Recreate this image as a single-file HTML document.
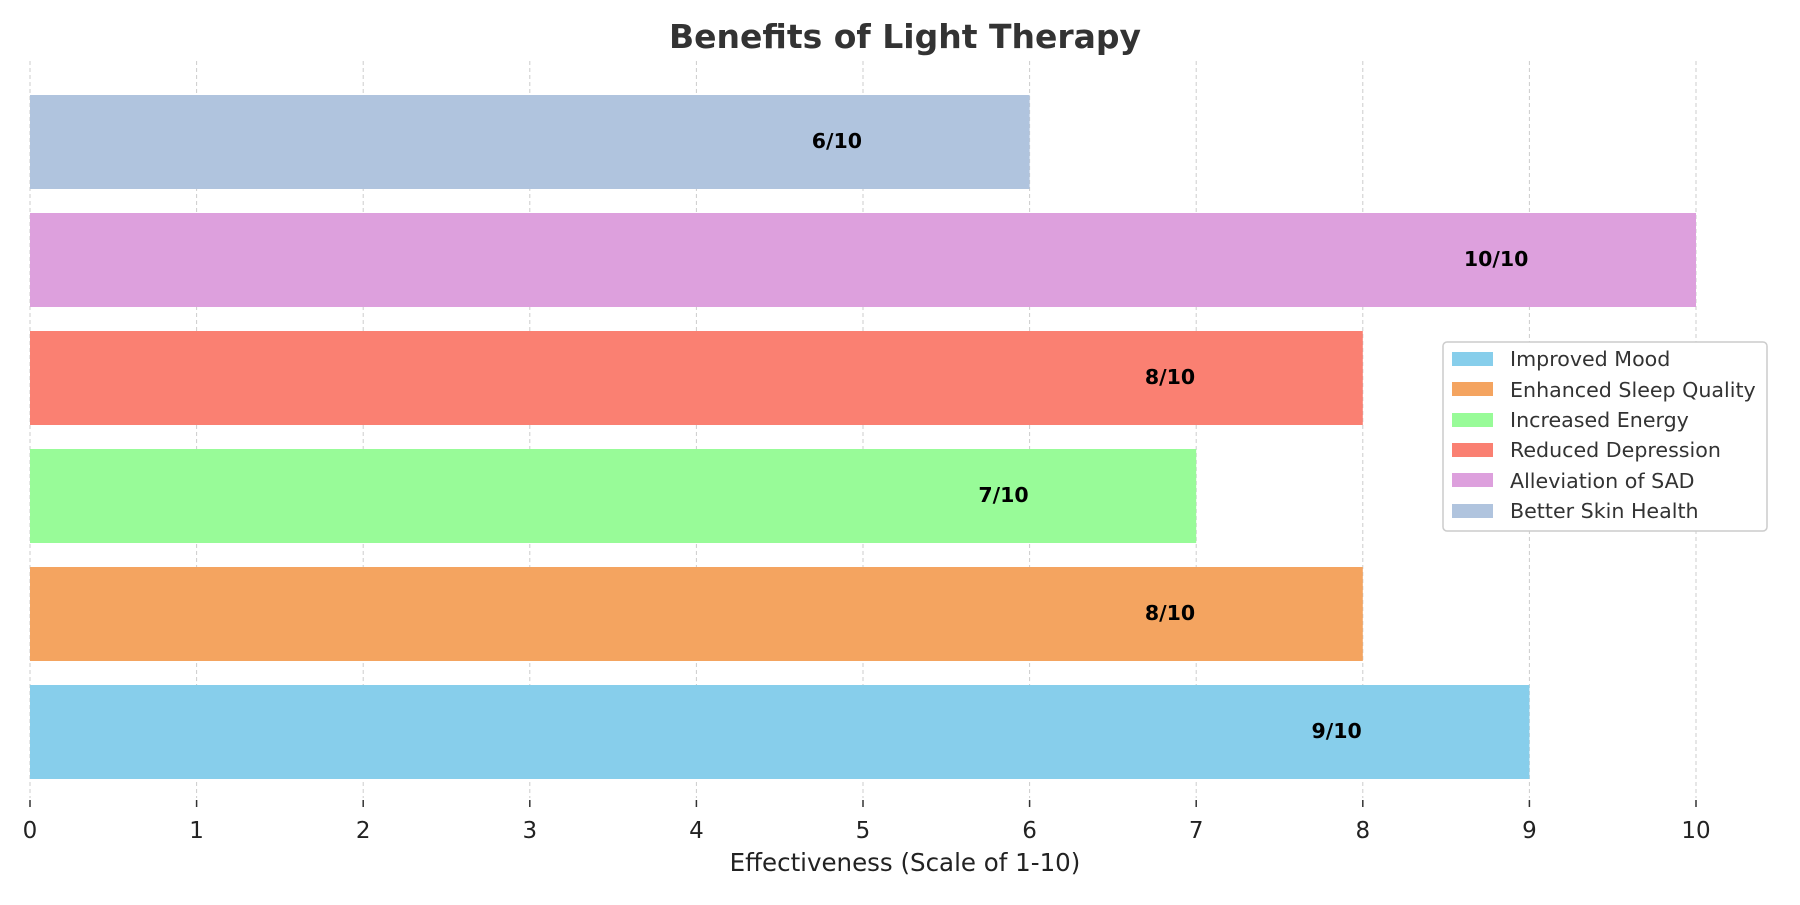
<!DOCTYPE html>
<html><head><style>body{margin:0;background:#fff}</style></head><body>
<svg width="1800" height="900" xmlns="http://www.w3.org/2000/svg" font-family="DejaVu Sans, sans-serif">
<text x="905" y="48" text-anchor="middle" font-size="33" font-weight="bold" fill="#333">Benefits of Light Therapy</text>
<g stroke="#cccccc" stroke-width="1" stroke-dasharray="4,3">
<line x1="30" y1="61" x2="30" y2="798"/><line x1="196.6" y1="61" x2="196.6" y2="798"/><line x1="363.2" y1="61" x2="363.2" y2="798"/><line x1="529.8" y1="61" x2="529.8" y2="798"/><line x1="696.4" y1="61" x2="696.4" y2="798"/><line x1="863" y1="61" x2="863" y2="798"/><line x1="1029.6" y1="61" x2="1029.6" y2="798"/><line x1="1196.2" y1="61" x2="1196.2" y2="798"/><line x1="1362.8" y1="61" x2="1362.8" y2="798"/><line x1="1529.4" y1="61" x2="1529.4" y2="798"/><line x1="1696" y1="61" x2="1696" y2="798"/>
</g>
<rect x="30" y="95" width="999.6" height="94" fill="#b0c4de"/>
<rect x="30" y="213" width="1666" height="94" fill="#dda0dd"/>
<rect x="30" y="331" width="1332.8" height="94" fill="#fa8072"/>
<rect x="30" y="449" width="1166.2" height="94" fill="#98fb98"/>
<rect x="30" y="567" width="1332.8" height="94" fill="#f4a460"/>
<rect x="30" y="685" width="1499.4" height="94" fill="#87ceeb"/>
<g font-size="20.5" font-weight="bold" fill="#000" text-anchor="end">
<text x="862" y="148">6/10</text><text x="1528.4" y="266">10/10</text><text x="1195.2" y="384">8/10</text><text x="1028.6" y="502">7/10</text><text x="1195.2" y="620">8/10</text><text x="1361.8" y="738">9/10</text>
</g>
<g stroke="#333" stroke-width="1.5">
<line x1="30" y1="800" x2="30" y2="807"/><line x1="196.6" y1="800" x2="196.6" y2="807"/><line x1="363.2" y1="800" x2="363.2" y2="807"/><line x1="529.8" y1="800" x2="529.8" y2="807"/><line x1="696.4" y1="800" x2="696.4" y2="807"/><line x1="863" y1="800" x2="863" y2="807"/><line x1="1029.6" y1="800" x2="1029.6" y2="807"/><line x1="1196.2" y1="800" x2="1196.2" y2="807"/><line x1="1362.8" y1="800" x2="1362.8" y2="807"/><line x1="1529.4" y1="800" x2="1529.4" y2="807"/><line x1="1696" y1="800" x2="1696" y2="807"/>
</g>
<g font-size="23" fill="#222" text-anchor="middle">
<text x="30" y="838">0</text><text x="196.6" y="838">1</text><text x="363.2" y="838">2</text><text x="529.8" y="838">3</text><text x="696.4" y="838">4</text><text x="863" y="838">5</text><text x="1029.6" y="838">6</text><text x="1196.2" y="838">7</text><text x="1362.8" y="838">8</text><text x="1529.4" y="838">9</text><text x="1696" y="838">10</text>
</g>
<text x="905" y="871" text-anchor="middle" font-size="24.5" fill="#222">Effectiveness (Scale of 1-10)</text>
<rect x="1443" y="342" width="324" height="189" rx="4" fill="#fff" stroke="#ccc" stroke-width="1.5"/>
<g font-size="20.6" fill="#333">
<rect x="1452" y="352" width="41" height="14" fill="#87ceeb"/><text x="1510" y="366">Improved Mood</text>
<rect x="1452" y="382" width="41" height="14" fill="#f4a460"/><text x="1510" y="397">Enhanced Sleep Quality</text>
<rect x="1452" y="413" width="41" height="14" fill="#98fb98"/><text x="1510" y="427">Increased Energy</text>
<rect x="1452" y="443" width="41" height="14" fill="#fa8072"/><text x="1510" y="457">Reduced Depression</text>
<rect x="1452" y="473" width="41" height="14" fill="#dda0dd"/><text x="1510" y="488">Alleviation of SAD</text>
<rect x="1452" y="504" width="41" height="14" fill="#b0c4de"/><text x="1510" y="518">Better Skin Health</text>
</g>
</svg>
</body></html>
